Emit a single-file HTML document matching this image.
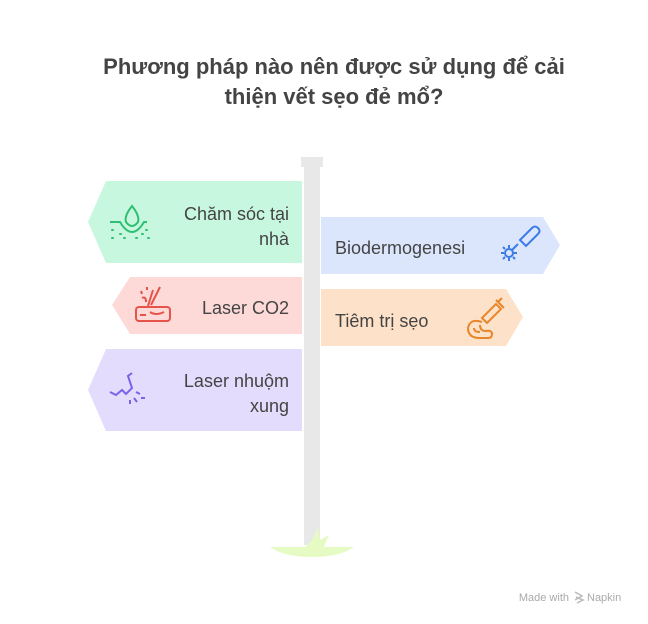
<!DOCTYPE html>
<html><head><meta charset="utf-8"><style>
html,body{margin:0;padding:0;background:#fff;width:648px;height:624px;overflow:hidden}
svg{display:block}
text{font-family:"Liberation Sans","DejaVu Sans",sans-serif;fill:#444}
</style></head><body>
<svg width="648" height="624" viewBox="0 0 648 624" xmlns="http://www.w3.org/2000/svg">
<text x="334" y="74" text-anchor="middle" font-size="22" font-weight="bold">Phương pháp nào nên được sử dụng để cải</text>
<text x="334" y="104" text-anchor="middle" font-size="22" font-weight="bold">thiện vết sẹo đẻ mổ?</text>
<!-- pole -->
<rect x="301" y="157" width="22" height="10" fill="#e8e8e8"/>
<rect x="304" y="167" width="16" height="378" fill="#e8e8e8"/>
<path d="M270 547 L354 547 Q340 557 312 557 Q284 557 270 547 Z" fill="#e6fbc4"/>
<path d="M305 547 L312 540 L318 527 L320 540 L329 535 L324 547 Z" fill="#e6fbc4"/>
<!-- signs -->
<polygon points="106,181 302,181 302,263 106,263 88,222" fill="#c8f7e0"/>
<polygon points="130,277 302,277 302,334 130,334 112,305" fill="#fdd9d7"/>
<polygon points="106,349 302,349 302,431 106,431 88,390" fill="#e3dcfc"/>
<polygon points="321,217 543,217 560,245 543,274 321,274" fill="#dbe6fd"/>
<polygon points="321,289 506,289 523,317 506,346 321,346" fill="#fde1c8"/>
<!-- text -->
<text x="289" y="220" text-anchor="end" font-size="18">Chăm sóc tại</text>
<text x="289" y="245" text-anchor="end" font-size="18">nhà</text>
<text x="289" y="314" text-anchor="end" font-size="18">Laser CO2</text>
<text x="289" y="387" text-anchor="end" font-size="18">Laser nhuộm</text>
<text x="289" y="412" text-anchor="end" font-size="18">xung</text>
<text x="335" y="254" font-size="18">Biodermogenesi</text>
<text x="335" y="327" font-size="18">Tiêm trị sẹo</text>
<!-- icons -->
<g fill="none" stroke="#2fbf71" stroke-width="2">
<path d="M110 222 H120 Q126 232 132 232 Q138 232 144 222 H147"/>
<path d="M132 206 Q124 216 126 222 Q132 230 138 222 Q140 216 132 206 Z"/>
<path d="M112 230 h1 M120 234 h1 M112 238 h1 M124 238 h1 M136 238 h1 M146 230 h1 M142 234 h1 M148 238 h1" stroke-linecap="round"/>
</g>
<g fill="none" stroke="#e5534b" stroke-width="2">
<rect x="136" y="307" width="34" height="14" rx="3"/>
<path d="M140 315 h6 M150 312 q6 4 14 0 M153 290 l-5 16 M160 287 l-9 18"/>
<path d="M142 298 q4 -2 4 4 M141 291 l1 3 M147 287 v3"/>
</g>
<g fill="none" stroke="#7b61e8" stroke-width="2">
<path d="M110 392 l6 3 l6 -5 l4 4 l6 -6 l-4 -12 l4 -3"/>
<path d="M136 392 l4 2 M134 398 l3 4 M130 400 v4 M141 398 h4"/>
</g>
<g fill="none" stroke="#3b7be8" stroke-width="2">
<path d="M520 240 l12 -12 q3 -3 6 0 q3 3 0 6 l-12 12 z"/>
<path d="M518 244 l-6 6"/>
<circle cx="509" cy="253" r="4"/>
<path d="M509 245 v3 M509 258 v3 M501 253 h3 M514 253 h3 M503 247 l2 2 M513 257 l2 2 M503 259 l2 -2"/>
</g>
<g fill="none" stroke="#e8862b" stroke-width="2">
<path d="M482 322 q-12 -4 -14 6 q0 10 12 10 h8 q4 0 4 -4 q0 -4 -6 -3 q-6 0 -6 -6"/>
<path d="M474 328 q0 4 6 4"/>
<path d="M482 318 l14 -14 l5 5 l-14 14 z M498 302 l4 -4 M496 300 l8 8"/>
</g>
<text x="569" y="601" text-anchor="end" font-size="11" style="fill:#aaa">Made with</text>
<path d="M575 592 l7 4 l-7 4 M576 597 l7 3 l-6 3" fill="none" stroke="#bbb" stroke-width="1.5"/>
<text x="587" y="601" font-size="11" style="fill:#aaa">Napkin</text>
</svg>
</body></html>
